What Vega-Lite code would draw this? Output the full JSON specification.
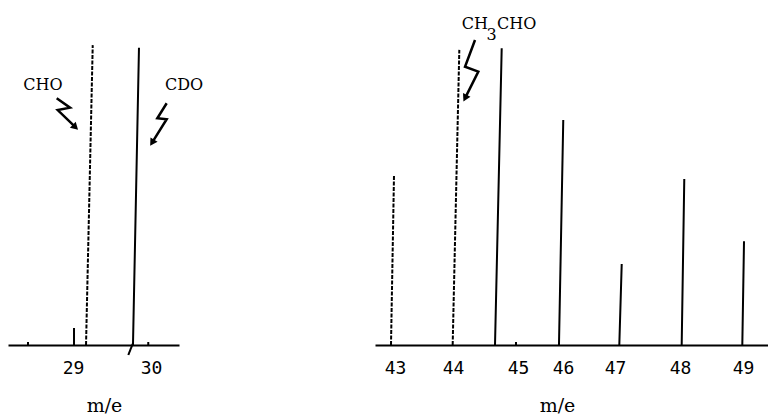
{
  "$schema": "https://vega.github.io/schema/vega-lite/v6.json",
  "background": "white",
  "padding": {"left": 8, "top": 5, "right": 0, "bottom": 0},
  "spacing": 196,
  "bounds": "flush",
  "config": {
    "view": {"stroke": null},
    "axis": {
      "grid": false, "domainColor": "black", "domainWidth": 2,
      "ticks": false, "tickSize": 0,
      "labelFont": "DejaVu Sans Mono", "labelFontSize": 18, "labelColor": "black",
      "labelPadding": 28, "labelBaseline": "alphabetic",
      "labelOverlap": false, "labelFlush": false, "labelBound": false,
      "titleFont": "DejaVu Serif", "titleFontSize": 19, "titleFontWeight": "normal",
      "titleColor": "black", "titleBaseline": "alphabetic", "titleY": 66, "titleAlign": "center"
    }
  },
  "datasets": {
    "peaksL": [
      {"x0": 29.013, "x1": 29.013, "y0": 0, "y1": 5.0, "style": "solid"},
      {"x0": 29.167, "x1": 29.253, "y0": 0, "y1": 88.2, "style": "dashed"},
      {"x0": 29.769, "x1": 29.846, "y0": 0, "y1": 87.4, "style": "solid"},
      {"x0": 28.423, "x1": 28.423, "y0": 0, "y1": 0.9, "style": "solid"},
      {"x0": 29.965, "x1": 29.965, "y0": 0, "y1": 0.9, "style": "solid"},
      {"x0": 29.709, "x1": 29.765, "y0": -2.94, "y1": 0.3, "style": "solid"}
    ],
    "peaksR": [
      {"x0": 43.0, "x1": 43.051, "y0": 0, "y1": 49.7, "style": "dashed"},
      {"x0": 44.049, "x1": 44.162, "y0": 0, "y1": 86.8, "style": "dashed"},
      {"x0": 44.769, "x1": 44.883, "y0": 0, "y1": 87.3, "style": "solid"},
      {"x0": 45.857, "x1": 45.93, "y0": 0, "y1": 66.2, "style": "solid"},
      {"x0": 46.883, "x1": 46.924, "y0": 0, "y1": 23.8, "style": "solid"},
      {"x0": 47.944, "x1": 47.988, "y0": 0, "y1": 48.8, "style": "solid"},
      {"x0": 48.975, "x1": 49.004, "y0": 0, "y1": 30.5, "style": "solid"},
      {"x0": 45.126, "x1": 45.126, "y0": 0, "y1": 0.9, "style": "solid"}
    ],
    "arrowsL": [
      {"a": "CHO", "i": 1, "x": 28.791, "y": 72.6},
      {"a": "CHO", "i": 2, "x": 28.962, "y": 69.8},
      {"a": "CHO", "i": 3, "x": 28.804, "y": 69.1},
      {"a": "CHO", "i": 4, "x": 29.031, "y": 64.06},
      {"a": "CDO", "i": 1, "x": 30.201, "y": 71.1},
      {"a": "CDO", "i": 2, "x": 30.081, "y": 66.7},
      {"a": "CDO", "i": 3, "x": 30.201, "y": 66.4},
      {"a": "CDO", "i": 4, "x": 30.014, "y": 59.5}
    ],
    "headsL": [
      {"x": 29.031, "y": 64.06, "ang": 134},
      {"x": 30.014, "y": 59.5, "ang": 212}
    ],
    "labelsL": [
      {"t": "CHO", "x": 28.363, "y": 75.0},
      {"t": "CDO", "x": 30.179, "y": 75.0}
    ],
    "arrowsR": [
      {"a": "CH3CHO", "i": 1, "x": 44.429, "y": 89.7},
      {"a": "CH3CHO", "i": 2, "x": 44.259, "y": 81.85},
      {"a": "CH3CHO", "i": 3, "x": 44.485, "y": 80.4},
      {"a": "CH3CHO", "i": 4, "x": 44.26, "y": 72.6}
    ],
    "headsR": [
      {"x": 44.26, "y": 72.6, "ang": 207}
    ],
    "labelsR": [
      {"t": "CH", "x": 44.203, "y": 92.9},
      {"t": "3", "x": 44.624, "y": 89.7},
      {"t": "CHO", "x": 44.803, "y": 92.9}
    ]
  },
  "hconcat": [
    {
      "width": 171,
      "height": 340,
      "layer": [
        {
          "data": {"name": "peaksL"},
          "mark": {"type": "rule", "color": "black", "strokeWidth": 2},
          "encoding": {
            "x": {"field": "x0", "type": "quantitative", "scale": {"domain": [28.1667, 30.359], "zero": false, "nice": false},
              "axis": {"title": "m/e", "values": [29, 30], "format": "d", "titleX": 96}},
            "x2": {"field": "x1"},
            "y": {"field": "y0", "type": "quantitative", "scale": {"domain": [0, 100], "nice": false}, "axis": null},
            "y2": {"field": "y1"},
            "strokeDash": {"field": "style", "type": "nominal", "scale": {"domain": ["solid", "dashed"], "range": [[1, 0], [4, 1.5]]}, "legend": null}
          }
        },
        {
          "data": {"name": "arrowsL"},
          "mark": {"type": "line", "color": "black", "strokeWidth": 2.5, "strokeJoin": "miter"},
          "encoding": {
            "x": {"field": "x", "type": "quantitative", "axis": {"title": "m/e", "values": [29, 30], "format": "d", "titleX": 96}},
            "y": {"field": "y", "type": "quantitative", "axis": null},
            "order": {"field": "i"},
            "detail": {"field": "a"}
          }
        },
        {
          "data": {"name": "headsL"},
          "mark": {"type": "point", "shape": "triangle-up", "filled": true, "color": "black", "size": 70, "opacity": 1},
          "encoding": {
            "x": {"field": "x", "type": "quantitative", "axis": {"title": "m/e", "values": [29, 30], "format": "d", "titleX": 96}},
            "y": {"field": "y", "type": "quantitative", "axis": null},
            "angle": {"field": "ang", "type": "quantitative", "scale": null}
          }
        },
        {
          "data": {"name": "labelsL"},
          "mark": {"type": "text", "align": "left", "baseline": "alphabetic", "font": "DejaVu Serif", "fontSize": 16, "color": "black"},
          "encoding": {
            "x": {"field": "x", "type": "quantitative", "axis": {"title": "m/e", "values": [29, 30], "format": "d", "titleX": 96}},
            "y": {"field": "y", "type": "quantitative", "axis": null},
            "text": {"field": "t"}
          }
        }
      ]
    },
    {
      "width": 393,
      "height": 340,
      "layer": [
        {
          "data": {"name": "peaksR"},
          "mark": {"type": "rule", "color": "black", "strokeWidth": 2},
          "encoding": {
            "x": {"field": "x0", "type": "quantitative", "scale": {"domain": [42.728, 49.412], "zero": false, "nice": false},
              "axis": {"title": "m/e", "values": [43.068, 44.055, 45.16, 45.925, 46.81, 47.915, 48.987], "labelExpr": "format(round(datum.value), 'd')", "titleX": 182}},
            "x2": {"field": "x1"},
            "y": {"field": "y0", "type": "quantitative", "scale": {"domain": [0, 100], "nice": false}, "axis": null},
            "y2": {"field": "y1"},
            "strokeDash": {"field": "style", "type": "nominal", "scale": {"domain": ["solid", "dashed"], "range": [[1, 0], [4, 1.5]]}, "legend": null}
          }
        },
        {
          "data": {"name": "arrowsR"},
          "mark": {"type": "line", "color": "black", "strokeWidth": 2.5, "strokeJoin": "miter"},
          "encoding": {
            "x": {"field": "x", "type": "quantitative", "axis": {"title": "m/e", "values": [43.068, 44.055, 45.16, 45.925, 46.81, 47.915, 48.987], "labelExpr": "format(round(datum.value), 'd')", "titleX": 182}},
            "y": {"field": "y", "type": "quantitative", "axis": null},
            "order": {"field": "i"},
            "detail": {"field": "a"}
          }
        },
        {
          "data": {"name": "headsR"},
          "mark": {"type": "point", "shape": "triangle-up", "filled": true, "color": "black", "size": 70, "opacity": 1},
          "encoding": {
            "x": {"field": "x", "type": "quantitative", "axis": {"title": "m/e", "values": [43.068, 44.055, 45.16, 45.925, 46.81, 47.915, 48.987], "labelExpr": "format(round(datum.value), 'd')", "titleX": 182}},
            "y": {"field": "y", "type": "quantitative", "axis": null},
            "angle": {"field": "ang", "type": "quantitative", "scale": null}
          }
        },
        {
          "data": {"name": "labelsR"},
          "mark": {"type": "text", "align": "left", "baseline": "alphabetic", "font": "DejaVu Serif", "fontSize": 16, "color": "black"},
          "encoding": {
            "x": {"field": "x", "type": "quantitative", "axis": {"title": "m/e", "values": [43.068, 44.055, 45.16, 45.925, 46.81, 47.915, 48.987], "labelExpr": "format(round(datum.value), 'd')", "titleX": 182}},
            "y": {"field": "y", "type": "quantitative", "axis": null},
            "text": {"field": "t"}
          }
        }
      ]
    }
  ],
  "resolve": {"scale": {"x": "independent", "y": "independent"}}
}
